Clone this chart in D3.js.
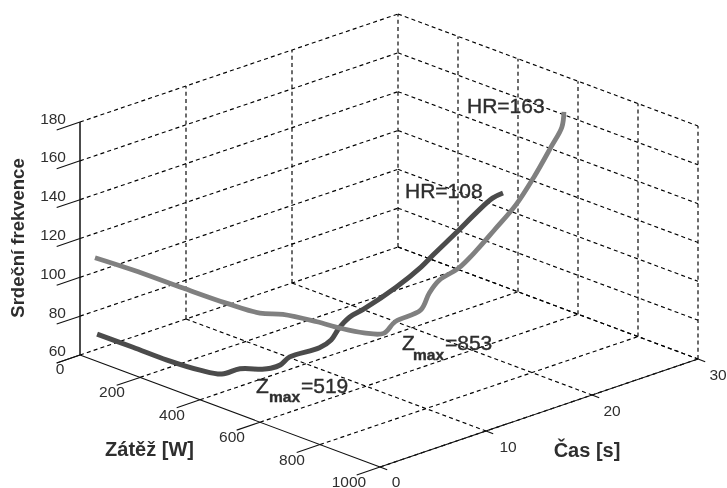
<!DOCTYPE html>
<html><head><meta charset="utf-8">
<script src="https://cdn.jsdelivr.net/npm/d3@7"></script>
<style>
html,body{margin:0;padding:0;background:#fff}
svg{display:block;filter:blur(0.35px)}
text{font-family:"Liberation Sans",Arial,sans-serif;fill:#2e2e2e}
</style></head><body>
<svg id="c" width="727" height="488"></svg>
<script>
const loadTicks=[0,200,400,600,800,1000];
const timeTicks=[0,10,20,30];
const hrTicks=[60,80,100,120,140,160,180];

const darkTime=[0,0.3,0.6,1,1.3,1.7,2.5,3.3,4.2,5.1,7.9,9,10,11.3,13,17,20,21.6,24.4,26.8,28.7,30];
const darkLoad=[57,166,269,365,427,473,519,519,519,519,519,519,510,499,486,453,430,417,395,376,361,350];
const darkHR=[74,73,71.8,71.4,72.4,77,78,77,77,79.5,79,81,84.7,87.3,87.5,89.5,93,96,101,105.6,108.4,108];

const greyTime=[0,0.3,1,1.5,2,2.3,3,3.3,4,4.5,5.6,8,8.9,10,13.1,16,18.8,22.3,25.2,27.9,29.7,30];
const greyLoad=[50,166,308,437,529,595,684,750,805,853,853,853,850,845,799,757,717,665,623,584,557,553];
const greyHR=[113,112.8,110.4,109,108.4,111,111,111,110.4,112,116,117.5,124.5,128.8,126.5,128,130.9,134.3,140.9,149,154.5,161.5];

const svg=d3.select("#c");
const wx=d3.scaleLinear().domain([0,1000]).range([0,300]);
const wy=d3.scaleLinear().domain([0,1000]).range([0,112]);
const tx=d3.scaleLinear().domain([0,30]).range([0,318]);
const ty=d3.scaleLinear().domain([0,30]).range([0,-108]);
const zy=d3.scaleLinear().domain([60,180]).range([0,-233]);
const P=(w,t,z)=>[80+wx(w)+tx(t),355+wy(w)+ty(t)+zy(z)];
const line=d3.line();
const smooth=d3.line().curve(d3.curveCatmullRom.alpha(0.5));
const zMin=60,zMax=180,wMax=1000,tMax=30;

const grid=svg.append("g").attr("fill","none").attr("stroke","#000").attr("stroke-width",1.15).attr("stroke-dasharray","4,3.2");
const seg=(g,a,b)=>g.append("path").attr("d",line([a,b]));
loadTicks.forEach(w=>{
  if(w>0) seg(grid,P(w,0,zMin),P(w,tMax,zMin));
  if(w>0) seg(grid,P(w,tMax,zMin),P(w,tMax,zMax));
});
timeTicks.forEach(t=>{
  if(t>0) seg(grid,P(0,t,zMin),P(wMax,t,zMin));
  if(t>0) seg(grid,P(0,t,zMin),P(0,t,zMax));
});
hrTicks.forEach(z=>{
  seg(grid,P(0,0,z),P(0,tMax,z));
  seg(grid,P(0,tMax,z),P(wMax,tMax,z));
});

const axes=svg.append("g").attr("fill","none").attr("stroke","#111").attr("stroke-width",1.1);
seg(axes,P(0,0,zMin),P(0,0,zMax)).attr("stroke-width",1.5);
seg(axes,P(0,0,zMin),P(wMax,0,zMin));
seg(axes,P(wMax,0,zMin),P(wMax,tMax,zMin));
hrTicks.forEach(z=>seg(axes,P(0,0,z),P(0,-2.2,z)));
loadTicks.forEach(w=>seg(axes,P(w,0,zMin),P(w,-2.2,zMin)));
timeTicks.forEach(t=>seg(axes,P(wMax,t,zMin),P(wMax+24,t,zMin)));

const tick=(x,y,s,anchor)=>svg.append("text").attr("x",x).attr("y",y).attr("text-anchor",anchor||"middle")
  .attr("dominant-baseline","central").attr("font-size",15.5).text(s);
hrTicks.forEach(z=>{const p=P(0,0,z);tick(p[0]-14,p[1]-4+(z===60?-1:0),z,"end");});
loadTicks.forEach(w=>{const p=P(w,0,zMin);tick(p[0]-(w===0?20:w===1000?31:28),p[1]+(w===0?13:w===1000?14:14.5),w);});
timeTicks.forEach(t=>{const p=P(wMax,t,zMin);tick(p[0]+(t===0?16:t===10?22:20),p[1]+(t===0?14:15.5),t);});

const curve=(T,L,H,color,width)=>svg.append("path")
  .attr("d",smooth(T.map((t,i)=>P(L[i],t,H[i]))))
  .attr("fill","none").attr("stroke",color).attr("stroke-width",width).attr("stroke-linejoin","round");
curve(darkTime,darkLoad,darkHR,"#4b4b4b",5);
curve(greyTime,greyLoad,greyHR,"#808080",4.8);

const bold=(x,y,s,size,rot)=>{const e=svg.append("text").attr("font-weight","bold").attr("font-size",size).attr("text-anchor","middle").text(s);
  if(rot) e.attr("transform",`translate(${x},${y}) rotate(${rot})`); else e.attr("x",x).attr("y",y); return e;};
bold(24,238,"Srdeční frekvence",18.5,-90);
bold(149.5,456,"Zátěž [W]",20);
bold(587,457,"Čas [s]",20);

const note=(x,y,s,size,weight)=>svg.append("text").attr("x",x).attr("y",y).attr("font-size",size).attr("font-weight",weight||"normal")
  .attr("stroke","#2e2e2e").attr("stroke-width",0.4).text(s);
note(467,113,"HR=163",21);
note(405,198,"HR=108",21);
note(256,393,"Z",21);
note(269,402,"max",15.5,"bold");
note(301,393,"=519",21);
note(402,350,"Z",21);
note(413,360,"max",15.5,"bold");
note(445,350,"=853",21);
</script>
</body></html>
